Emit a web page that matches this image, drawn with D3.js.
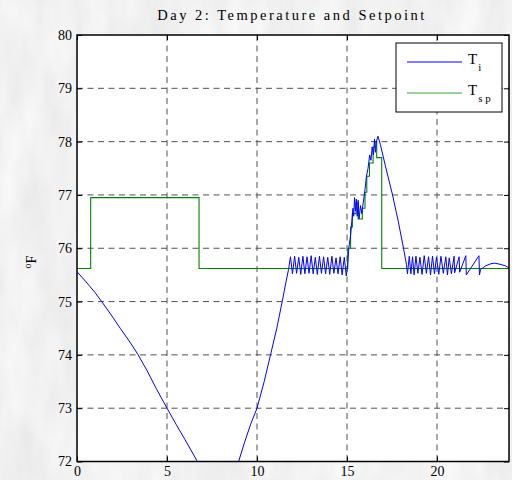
<!DOCTYPE html>
<html>
<head>
<meta charset="utf-8">
<script src="https://cdn.jsdelivr.net/npm/d3@7"></script>
<style>
  html, body { margin: 0; padding: 0; }
  svg { display: block; font-family: "Liberation Serif", "Times New Roman", serif; }
</style>
</head>
<body>
<svg id="chart" width="512" height="480"></svg>
<script>
// Indoor temperature T_i (hours, °F)
const tiHours = [
  0, 0.5, 1.0, 1.37, 1.9, 2.4, 2.9, 3.4, 3.9, 4.4, 5.0, 5.5, 6.0, 6.69,
  7.2, 7.9, 8.5, 8.98, 9.3, 9.65, 10.0, 10.4, 10.75, 11.1, 11.4, 11.6, 11.75,
  11.86, 11.97, 12.09, 12.2, 12.32, 12.43, 12.55, 12.66, 12.78, 12.89, 13.01, 13.12,
  13.24, 13.35, 13.47, 13.58, 13.7, 13.81, 13.93, 14.04, 14.16, 14.27, 14.39, 14.5,
  14.62, 14.73, 14.85, 14.96,
  15.04, 15.1, 15.2, 15.28, 15.33, 15.37, 15.42, 15.47, 15.52, 15.57, 15.62, 15.67,
  15.75, 15.82, 15.9, 16.0, 16.08, 16.17, 16.26, 16.33, 16.4, 16.47, 16.53, 16.58,
  16.63, 16.72, 16.85, 17.2, 17.53, 17.85, 18.14, 18.3, 18.36,
  18.46, 18.55, 18.64, 18.73, 18.83, 18.94, 19.05, 19.17, 19.29, 19.41, 19.53, 19.64,
  19.75, 19.86, 19.97, 20.1, 20.22, 20.35, 20.49, 20.58, 20.68, 20.8, 20.95, 20.98,
  21.23, 21.26, 21.6, 21.63, 22.33, 22.36, 22.42, 22.7, 23.0, 23.2, 23.5, 23.8, 24.0
];
const tiValues = [
  75.56, 75.37, 75.17, 75.0, 74.75, 74.5, 74.26, 74.0, 73.7, 73.37, 73.0, 72.7, 72.41, 72.0,
  71.7, 71.5, 71.65, 72.0, 72.35, 72.7, 73.0, 73.5, 74.0, 74.5, 75.0, 75.35, 75.6,
  75.84, 75.52, 75.85, 75.53, 75.83, 75.51, 75.85, 75.52, 75.84, 75.53, 75.86, 75.52,
  75.83, 75.51, 75.85, 75.53, 75.84, 75.52, 75.83, 75.51, 75.85, 75.53, 75.82, 75.52,
  75.84, 75.5, 75.83, 75.48,
  75.7, 76.0, 76.25, 76.55, 76.75, 76.6, 76.95, 76.7, 76.92, 76.6, 76.9, 76.55,
  76.8, 76.65, 76.85, 77.1, 77.35, 77.5, 77.75, 77.65, 77.9, 77.75, 78.05, 77.8,
  78.0, 78.1, 77.95, 77.45, 77.0, 76.5, 76.0, 75.7, 75.52,
  75.85, 75.52, 75.84, 75.5, 75.85, 75.53, 75.83, 75.51, 75.86, 75.53, 75.84, 75.5,
  75.85, 75.52, 75.83, 75.51, 75.85, 75.53, 75.84, 75.5, 75.82, 75.52, 75.85, 75.54,
  75.84, 75.55, 75.86, 75.5, 75.86, 75.5, 75.6, 75.67, 75.71, 75.72, 75.7, 75.67, 75.63
];

// Setpoint T_sp, held until the next change (hours, °F)
const spHours = [0, 0.76, 6.78, 15.04, 15.2, 15.3, 15.5, 15.62, 15.85, 16.0, 16.1, 16.25, 16.45, 16.55, 16.65, 16.93, 24];
const spValues = [75.62, 76.95, 75.62, 76.0, 76.4, 76.65, 76.85, 76.55, 76.75, 77.05, 77.35, 77.6, 77.9, 78.0, 77.7, 75.62, 75.62];

const xTicks = [0, 5, 10, 15, 20];
const yTicks = [72, 73, 74, 75, 76, 77, 78, 79, 80];

const svg = d3.select("#chart");
const W = 512, H = 480;
const box = { left: 77, right: 509, top: 35, bottom: 461.5 };

// Textured backdrop
const defs = svg.append("defs");
const f = defs.append("filter").attr("id", "marble")
  .attr("x", 0).attr("y", 0).attr("width", "100%").attr("height", "100%");
f.append("feTurbulence").attr("type", "fractalNoise")
  .attr("baseFrequency", "0.035 0.012").attr("numOctaves", 3).attr("seed", 7);
f.append("feColorMatrix").attr("type", "matrix")
  .attr("values", "0.2 0 0 0 0.78  0.2 0 0 0 0.78  0.2 0 0 0 0.78  0 0 0 0 1");
defs.append("clipPath").attr("id", "plotClip")
  .append("rect").attr("x", box.left).attr("y", box.top)
  .attr("width", box.right - box.left).attr("height", box.bottom - box.top);

svg.append("rect").attr("width", W).attr("height", H).attr("fill", "#e6e6e6");
svg.append("rect").attr("width", W).attr("height", H).attr("filter", "url(#marble)");

const x = d3.scaleLinear().domain([0, 24]).range([box.left, box.right]);
const y = d3.scaleLinear().domain([72, 80]).range([box.bottom, box.top]);

// Plot area
svg.append("rect").attr("x", box.left).attr("y", box.top)
  .attr("width", box.right - box.left).attr("height", box.bottom - box.top).attr("fill", "#fff");

// Dashed grid
const grid = svg.append("g").attr("stroke", "#333").attr("stroke-width", 1)
  .attr("stroke-dasharray", "6,4.5").attr("opacity", 0.85);
grid.selectAll("line.v").data(xTicks.filter(d => d > 0)).join("line")
  .attr("class", "v")
  .attr("x1", d => x(d)).attr("x2", d => x(d)).attr("y1", box.top).attr("y2", box.bottom);
grid.selectAll("line.h").data(yTicks.filter(d => d > 72 && d < 80)).join("line")
  .attr("class", "h")
  .attr("x1", box.left).attr("x2", box.right).attr("y1", d => y(d)).attr("y2", d => y(d));

// Series
const plot = svg.append("g").attr("clip-path", "url(#plotClip)");
const tiData = tiHours.map((t, i) => [t, tiValues[i]]);
const spData = spHours.map((t, i) => [t, spValues[i]]);

plot.append("path").datum(spData)
  .attr("fill", "none").attr("stroke", "#008000").attr("stroke-width", 1.1)
  .attr("d", d3.line().x(d => x(d[0])).y(d => y(d[1])).curve(d3.curveStepAfter));
plot.append("path").datum(tiData)
  .attr("fill", "none").attr("stroke", "#0000ff").attr("stroke-width", 1)
  .attr("d", d3.line().x(d => x(d[0])).y(d => y(d[1])));

// Axes: ticks pointing inward on every side
const fontSize = 14;
const gx = svg.append("g").attr("transform", `translate(0,${box.bottom})`)
  .call(d3.axisBottom(x).tickValues(xTicks).tickSize(-5).tickPadding(5));
const gy = svg.append("g").attr("transform", `translate(${box.left},0)`)
  .call(d3.axisLeft(y).tickValues(yTicks).tickSize(-5).tickPadding(5));
const gt = svg.append("g").attr("transform", `translate(0,${box.top})`)
  .call(d3.axisTop(x).tickValues(xTicks).tickSize(-5).tickFormat(""));
const gr = svg.append("g").attr("transform", `translate(${box.right},0)`)
  .call(d3.axisRight(y).tickValues(yTicks).tickSize(-5).tickFormat(""));
[gx, gy, gt, gr].forEach(g => {
  g.select(".domain").remove();
  g.selectAll("line").attr("stroke", "#000");
  g.selectAll("text").attr("fill", "#000")
    .style("font-family", "'Liberation Serif', serif").style("font-size", fontSize + "px");
});

// Frame
svg.append("rect").attr("x", box.left).attr("y", box.top)
  .attr("width", box.right - box.left).attr("height", box.bottom - box.top)
  .attr("fill", "none").attr("stroke", "#000").attr("stroke-width", 1.5);

// Title
svg.append("text").attr("x", 292).attr("y", 20).attr("text-anchor", "middle")
  .style("font-size", "14.5px").style("letter-spacing", "2.5px")
  .text("Day 2: Temperature and Setpoint");

// Y label: °F written with a raised "o"
const yl = svg.append("text").attr("transform", "translate(36,262) rotate(-90)")
  .attr("text-anchor", "middle").style("font-size", "14px");
yl.append("tspan").attr("dy", -5).style("font-size", "10px").text("o");
yl.append("tspan").attr("dy", 5).text("F");

// Legend
const lg = svg.append("g");
lg.append("rect").attr("x", 396).attr("y", 43).attr("width", 106).attr("height", 69)
  .attr("fill", "#fff").attr("stroke", "#000").attr("stroke-width", 1);
const entries = [
  { color: "#0000ff", y: 62, main: "T", sub: "i" },
  { color: "#3aa13a", y: 93, main: "T", sub: "s p" }
];
entries.forEach(e => {
  lg.append("line").attr("x1", 407).attr("x2", 462).attr("y1", e.y).attr("y2", e.y)
    .attr("stroke", e.color).attr("stroke-width", 1.2);
  const t = lg.append("text").attr("x", 468).attr("y", e.y + 2).style("font-size", "15px");
  t.append("tspan").text(e.main);
  t.append("tspan").attr("dx", 1).attr("dy", 7).style("font-size", "11px").text(e.sub);
});
</script>
</body>
</html>
